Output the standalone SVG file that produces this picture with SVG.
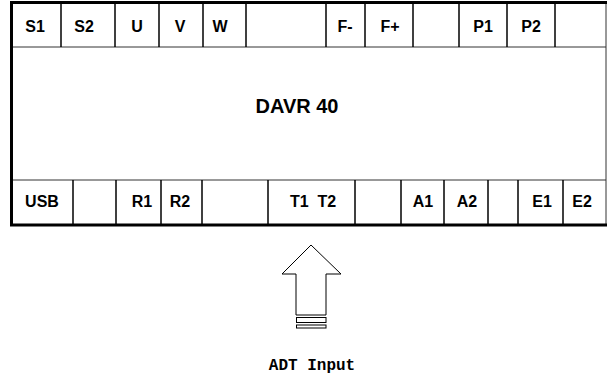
<svg xmlns="http://www.w3.org/2000/svg" width="608" height="378" viewBox="0 0 608 378">
<style>
.lbl{font-family:"Liberation Sans",Arial,sans-serif;font-weight:bold;font-size:16px;fill:#000;text-anchor:middle}
.big{font-family:"Liberation Sans",Arial,sans-serif;font-weight:bold;font-size:20px;fill:#000;text-anchor:middle}
.mono{font-family:"Liberation Mono","DejaVu Sans Mono",monospace;font-weight:bold;font-size:16px;fill:#000;text-anchor:middle}
.div{stroke:#000;stroke-width:1.5;fill:none}
.thin{stroke:#333;stroke-width:1;fill:none}
.thick{stroke:#000;stroke-width:3;fill:none}
.arr{stroke:#000;stroke-width:1;fill:#fff}
</style>
<rect x="0" y="0" width="608" height="378" fill="#fff"/>
<g id="device">
<g id="frame">
<line class="thin" x1="606" y1="2" x2="606" y2="225"/>
<line class="thin" x1="12" y1="47" x2="606" y2="47"/>
<line class="thin" x1="12" y1="180" x2="606" y2="180"/>
<path class="thick" d="M607 2.5 H11.5 V225 H607"/>
</g>
<g id="top-row">
<g id="cell-S1"><text class="lbl" x="35" y="32">S1</text></g>
<line class="div" x1="61" y1="3" x2="61" y2="47"/>
<g id="cell-S2"><text class="lbl" x="84" y="32">S2</text></g>
<line class="div" x1="115" y1="3" x2="115" y2="47"/>
<g id="cell-U"><text class="lbl" x="137" y="32">U</text></g>
<line class="div" x1="159" y1="3" x2="159" y2="47"/>
<g id="cell-V"><text class="lbl" x="180" y="32">V</text></g>
<line class="div" x1="203" y1="3" x2="203" y2="47"/>
<g id="cell-W"><text class="lbl" x="220" y="32">W</text></g>
<line class="div" x1="246" y1="3" x2="246" y2="47"/>
<g id="cell-empty1"/>
<line class="div" x1="326" y1="3" x2="326" y2="47"/>
<g id="cell-Fminus"><text class="lbl" x="345" y="32">F-</text></g>
<line class="div" x1="365" y1="3" x2="365" y2="47"/>
<g id="cell-Fplus"><text class="lbl" x="390" y="32">F+</text></g>
<line class="div" x1="413" y1="3" x2="413" y2="47"/>
<g id="cell-empty2"/>
<line class="div" x1="459" y1="3" x2="459" y2="47"/>
<g id="cell-P1"><text class="lbl" x="483" y="32">P1</text></g>
<line class="div" x1="507" y1="3" x2="507" y2="47"/>
<g id="cell-P2"><text class="lbl" x="531" y="32">P2</text></g>
<line class="div" x1="555" y1="3" x2="555" y2="47"/>
<g id="cell-empty3"/>
</g>
<g id="body"><text class="big" x="297" y="113">DAVR 40</text></g>
<g id="bottom-row">
<g id="cell-USB"><text class="lbl" x="42" y="207">USB</text></g>
<line class="div" x1="73" y1="180" x2="73" y2="224"/>
<g id="cell-empty4"/>
<line class="div" x1="116" y1="180" x2="116" y2="224"/>
<g id="cell-R1"><text class="lbl" x="142" y="207">R1</text></g>
<line class="div" x1="161" y1="180" x2="161" y2="224"/>
<g id="cell-R2"><text class="lbl" x="180" y="207">R2</text></g>
<line class="div" x1="202" y1="180" x2="202" y2="224"/>
<g id="cell-empty5"/>
<line class="div" x1="268" y1="180" x2="268" y2="224"/>
<g id="cell-T1T2"><text class="lbl" x="313" y="207" xml:space="preserve">T1  T2</text></g>
<line class="div" x1="355" y1="180" x2="355" y2="224"/>
<g id="cell-empty6"/>
<line class="div" x1="401" y1="180" x2="401" y2="224"/>
<g id="cell-A1"><text class="lbl" x="423" y="207">A1</text></g>
<line class="div" x1="444" y1="180" x2="444" y2="224"/>
<g id="cell-A2"><text class="lbl" x="467" y="207">A2</text></g>
<line class="div" x1="488" y1="180" x2="488" y2="224"/>
<g id="cell-empty7"/>
<line class="div" x1="518" y1="180" x2="518" y2="224"/>
<g id="cell-E1"><text class="lbl" x="542" y="207">E1</text></g>
<line class="div" x1="563" y1="180" x2="563" y2="224"/>
<g id="cell-E2"><text class="lbl" x="582" y="207">E2</text></g>
</g>
</g>
<g id="connectors">
<g id="adt-arrow">
<path class="arr" d="M311 245 L341 274 H326 V315 H296 V274 H282 Z"/>
<rect class="arr" x="296.5" y="317.5" width="29.5" height="5"/>
<rect class="arr" x="296.5" y="325" width="29.5" height="3"/>
</g>
</g>
<g id="adt-input"><text class="mono" x="312" y="370">ADT Input</text></g>
</svg>
